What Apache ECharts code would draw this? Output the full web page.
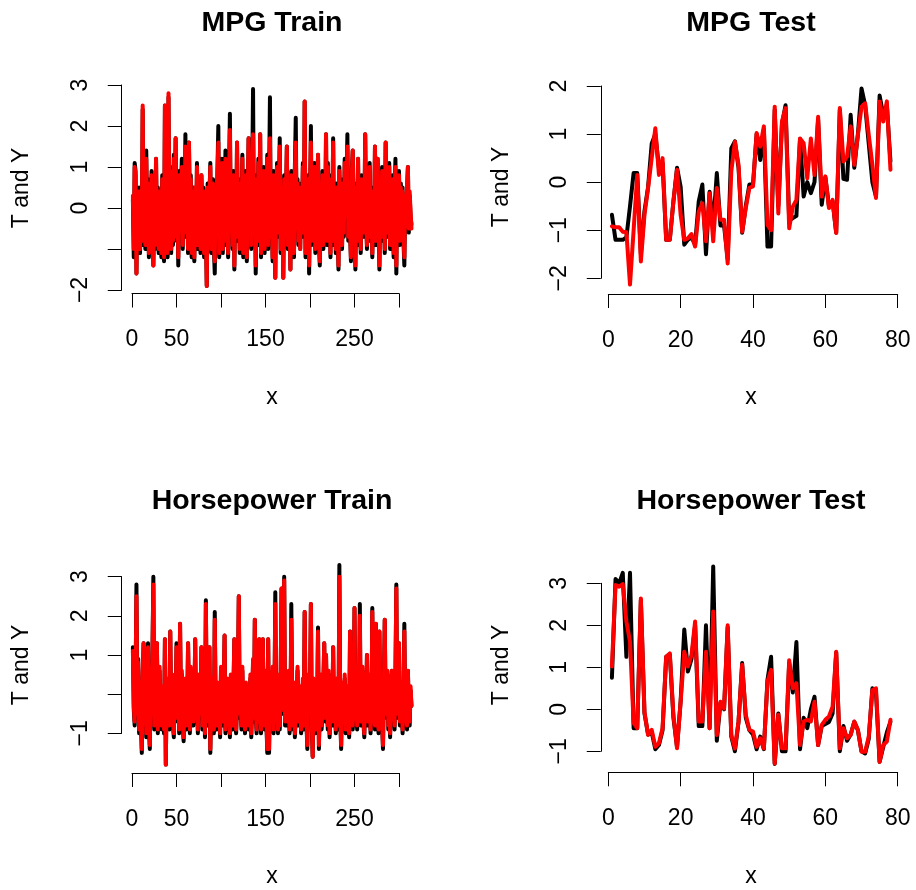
<!DOCTYPE html>
<html>
<head>
<meta charset="utf-8">
<script src="https://cdn.jsdelivr.net/npm/echarts@6/dist/echarts.min.js"></script>
<style>
html, body { margin: 0; padding: 0; background: #fff; }
#chart { width: 916px; height: 890px; }
</style>
</head>
<body>
<div id="chart"></div>
<script>
// T (black) and Y (red), standardized, index 1..n
var mpgTrainT = [
  0.2,-1.2,1.1,0.9,-1.6,0.3,-0.8,0.5,-1.1,0.0, -0.6,2.4,-0.9,0.4,-1.0,1.4,-0.3,0.7,-1.2,0.1,
  -0.5,0.9,-0.8,-1.4,0.2,-1.0,1.2,-0.7,0.5,-1.1, 0.3,-0.4,-1.2,0.8,-0.2,-1.3,2.5,-0.6,0.6,-1.2,
  2.7,-0.3,1.0,-1.1,0.4,-0.9,1.3,-0.5,1.7,-0.8, 0.2,-1.4,0.9,-0.6,0.4,1.2,-1.0,0.3,-0.7,1.8,
  -0.4,0.6,-1.1,1.6,-0.2,0.8,-1.2,0.1,0.5,-1.3, 0.4,-0.7,1.1,-1.0,0.2,-0.5,-1.1,0.8,-0.3,0.5,
  -1.2,0.3,-0.6,-1.9,0.6,-0.9,0.2,1.1,-1.1,-0.2, 0.7,-1.0,-1.6,0.4,-0.5,0.9,2.0,-1.2,0.3,-0.7,
  1.2,-1.1,0.5,-0.3,1.4,-0.9,0.1,-1.2,0.8,2.3, -0.6,0.4,-1.0,0.9,-1.5,0.2,-0.8,1.6,-0.4,0.7,
  -1.1,0.3,-0.6,1.3,-1.2,0.5,-0.2,0.9,-1.3,0.1, 1.7,-0.7,0.4,-1.0,0.6,2.9,-0.5,0.8,-1.6,0.2,
  -0.9,1.2,-0.3,1.8,-1.2,0.5,-0.6,1.0,-1.1,0.3, -0.4,1.3,-1.0,0.6,2.7,-0.8,0.2,-1.3,0.9,-0.5,
  -1.7,0.4,1.1,-0.7,0.3,1.7,-1.1,0.6,-0.2,-1.7, 0.8,-0.6,0.2,1.5,-1.0,0.5,-0.3,-1.5,0.9,-0.8,
  0.4,-1.2,1.0,2.2,-0.5,0.7,-0.9,0.3,-1.0,0.6, -0.4,1.1,-0.7,2.6,-1.2,0.4,-0.3,0.8,-1.6,0.2,
  2.0,-0.9,0.5,-0.4,1.1,-1.1,0.7,-0.2,1.3,-0.8, -1.4,0.6,-0.5,0.9,-1.0,0.3,-0.6,1.8,-0.9,1.1,
  -0.3,0.5,-1.2,0.8,-0.4,1.7,-0.9,0.2,-1.1,0.6, -0.5,-1.5,1.0,-0.2,0.7,-1.0,0.4,-0.7,1.2,-0.3,
  0.5,1.8,-0.8,0.3,-0.6,-1.3,0.9,1.4,-0.4,0.2, -1.5,0.6,-0.3,1.2,-0.9,0.4,-1.1,0.8,-0.5,0.3,
  -0.7,1.8,-0.2,-1.0,0.6,-0.8,1.1,-0.4,0.5,-1.2, 0.3,-0.6,1.5,-0.9,0.7,1.2,-0.3,-1.5,0.4,-0.8,
  1.0,-0.5,0.2,-1.1,1.6,-0.7,0.5,-0.2,1.1,-1.0, 0.4,-0.6,0.8,-1.2,0.3,1.2,-1.6,0.6,-0.4,0.9,
  -0.9,0.6,-0.3,0.5,-0.8,-1.4,0.2,-0.5,0.4,1.0, -0.6,0.3,-0.2,-0.4
];
var mpgTrainY = [
  0.3,-1.0,1.0,0.8,-1.6,0.4,-0.7,0.4,-1.0,0.1, -0.5,2.5,-0.8,0.3,-0.9,1.2,-0.2,0.6,-1.1,0.2,
  -0.4,0.8,-0.7,-1.4,0.3,-0.9,1.2,-0.6,0.4,-1.0, 0.4,-0.3,-1.1,0.7,-0.1,-1.2,2.5,-0.5,0.5,-1.1,
  2.8,-0.2,0.9,-1.0,0.5,-0.8,1.2,-0.4,1.7,-0.7, 0.3,-1.2,0.8,-0.5,0.5,1.0,-0.9,0.4,-0.6,1.5,
  -0.3,0.5,-1.0,1.6,-0.1,0.7,-1.1,0.2,0.4,-1.2, 0.5,-0.6,1.0,-0.9,0.3,-0.4,-1.0,0.8,-0.2,0.4,
  -1.1,0.4,-0.5,-1.9,0.5,-0.8,0.3,1.0,-1.0,-0.1, 0.6,-0.9,-1.3,0.5,-0.4,0.8,1.6,-1.1,0.4,-0.6,
  1.1,-1.0,0.6,-0.2,1.2,-0.8,0.2,-1.1,0.7,1.9, -0.5,0.5,-0.9,0.8,-1.4,0.3,-0.7,1.6,-0.3,0.6,
  -1.0,0.4,-0.5,1.2,-1.1,0.6,-0.1,0.8,-1.2,0.2, 1.7,-0.6,0.5,-0.9,0.5,1.8,-0.4,0.7,-1.4,0.3,
  -0.8,1.1,-0.2,1.8,-1.1,0.6,-0.5,0.9,-1.0,0.4, -0.3,1.2,-0.9,0.5,1.7,-0.7,0.3,-1.2,0.8,-0.4,
  -1.7,0.5,1.0,-0.6,0.4,1.5,-1.0,0.5,-0.1,-1.7, 0.7,-0.5,0.3,1.5,-0.9,0.6,-0.2,-1.5,0.8,-0.7,
  0.5,-1.1,0.9,1.6,-0.4,0.6,-0.8,0.4,-1.0,0.5, -0.3,1.0,-0.6,2.6,-1.1,0.5,-0.2,0.7,-1.4,0.3,
  1.6,-0.8,0.6,-0.3,1.0,-1.0,0.6,-0.1,1.3,-0.7, -1.3,0.5,-0.4,0.8,-0.9,0.4,-0.5,1.8,-0.8,1.0,
  -0.2,0.6,-1.1,0.7,-0.3,1.6,-0.8,0.3,-1.0,0.5, -0.4,-1.4,0.9,-0.1,0.6,-0.9,0.5,-0.6,1.1,-0.2,
  0.4,1.5,-0.7,0.4,-0.5,-1.2,0.8,1.4,-0.3,0.3, -1.4,0.5,-0.2,1.2,-0.8,0.5,-1.0,0.7,-0.4,0.4,
  -0.6,1.8,-0.1,-0.9,0.5,-0.7,1.0,-0.3,0.4,-1.1, 0.4,-0.5,1.5,-0.8,0.6,1.2,-0.2,-1.4,0.5,-0.7,
  0.9,-0.4,0.3,-1.0,1.6,-0.6,0.4,-0.1,1.0,-0.9, 0.5,-0.5,0.7,-1.1,0.4,1.0,-1.4,0.5,-0.3,0.8,
  -0.8,0.5,-0.2,0.4,-0.7,-1.2,0.3,-0.4,0.5,1.0, -0.5,0.4,-0.1,-0.5
];
var mpgTestT = [
  -0.68,-1.2,-1.2,-1.2,-1.15,-0.5,0.19,0.19,-1.5,-0.6, -0.1,0.8,1.0,0.3,0.4,-1.2,-1.2,-0.4,0.3,-0.1,
  -1.3,-1.2,-1.15,-1.3,-0.4,-0.05,-1.5,-0.2,-0.9,0.19, -0.9,-0.9,-1.6,0.7,0.85,0.3,-1.05,-0.5,-0.05,-0.05,
  1.0,0.46,1.1,-1.34,-1.34,1.5,-0.5,1.2,1.6,-0.8, -0.75,-0.7,0.9,-0.3,0.0,-0.23,0.0,1.3,-0.47,0.1,
  -0.5,-0.4,-1.05,1.5,0.07,0.05,1.4,0.3,1.0,1.95, 1.6,0.8,0.0,-0.3,1.8,1.4,1.6,0.43
];
var mpgTestY = [
  -0.92,-0.94,-0.94,-1.03,-1.04,-2.13,-1.0,0.15,-1.65,-0.68, -0.12,0.5,1.12,0.15,0.5,-1.2,-1.2,-0.4,0.26,-0.68,
  -1.2,-1.17,-1.08,-1.34,-0.61,-0.44,-1.23,-0.23,-1.23,-0.12, -0.78,-0.78,-1.69,0.22,0.84,0.36,-1.03,-0.54,-0.12,-0.09,
  1.02,0.74,1.16,-0.89,-1.0,1.57,-0.65,1.26,1.54,-0.96, -0.51,-0.37,0.91,0.81,0.08,0.91,0.15,1.36,-0.3,0.12,
  -0.54,-0.37,-1.06,1.54,0.43,0.53,1.16,0.36,0.98,1.57, 1.64,0.98,0.36,-0.33,1.68,1.26,1.68,0.26
];
var hpTrainT = [
  1.2,-0.4,-0.8,0.3,2.8,-0.6,0.9,-1.0,0.2,-0.7, -1.5,0.4,1.3,-0.5,0.6,-1.1,-0.3,1.3,-0.8,-1.4,
  0.5,-0.6,1.1,3.0,-0.9,0.2,-0.5,1.3,-1.0,-0.2, 0.6,-0.7,-0.9,0.1,-0.4,-1.0,1.4,-1.8,0.3,-0.6,
  -0.2,-0.9,1.6,-0.5,0.2,-0.8,-1.1,0.4,-0.6,1.3, -0.7,0.0,-1.0,1.8,-0.4,0.5,-0.8,-1.2,-0.3,0.3,
  -0.9,-0.5,1.3,-0.2,-1.0,0.6,-0.6,0.1,-0.8,-0.4, 1.4,-0.7,-0.1,-1.0,0.4,-0.6,-0.4,1.2,-0.9,-0.3,
  0.5,-1.1,2.4,-0.6,0.0,-0.8,1.2,-1.5,-0.2,0.3, -0.7,-1.0,2.1,-0.5,-0.9,0.2,-0.6,-0.3,-1.1,0.6,
  -0.4,-0.8,0.0,1.5,-1.0,-0.6,0.3,-0.9,-0.2,-1.1, 0.4,-0.5,-0.9,0.1,1.4,-0.7,-1.0,-0.3,0.5,2.5,
  -0.6,-0.2,-0.9,0.6,-0.7,-0.4,-1.0,0.2,-0.5,0.2, -0.9,-0.6,0.4,-1.1,-0.3,0.8,-0.7,1.9,-0.5,-1.0,
  0.3,-0.8,1.4,-0.4,-1.0,0.1,1.4,-0.6,-0.9,0.5, -0.7,-1.5,1.4,-1.5,0.2,-0.6,-0.3,0.6,-1.0,-0.4,
  2.6,-0.7,0.1,-1.0,0.4,-0.9,0.3,2.7,-0.5,0.4, 3.0,-0.8,0.2,-0.8,-0.3,0.5,-1.0,-0.6,2.3,-0.4,
  -0.9,0.2,-1.1,-0.5,-0.2,0.6,-0.8,-0.4,0.1,-1.0, -0.6,0.3,-0.9,2.1,-0.3,-0.7,-1.4,0.4,-0.5,0.0,
  2.3,-0.8,-1.6,0.3,-0.4,-1.0,0.1,-0.6,1.7,-1.4, -0.2,0.4,-0.9,-0.5,0.2,1.3,-0.7,1.0,-0.3,-0.9,
  0.5,-1.1,-0.4,0.1,-0.8,1.2,-0.6,-0.2,-1.0,0.3, -0.5,-0.9,3.3,-0.6,-1.4,0.2,-0.4,-0.8,0.4,-1.0,
  -0.3,0.1,-0.7,-1.1,1.6,-0.5,0.3,-0.9,-0.4,2.2, -0.6,0.0,-0.9,0.5,-0.4,2.3,-0.8,-0.2,0.6,-0.7,
  -1.1,0.2,-0.5,1.0,-0.8,-0.3,0.4,-1.0,-0.6,2.2, -0.4,0.3,-0.9,1.8,-0.6,-0.2,-1.0,1.6,-0.5,0.1,
  -0.8,-1.4,0.2,1.9,-0.6,-0.3,0.5,-0.9,-0.4,-1.1, 0.0,0.6,-0.7,-0.3,-0.9,0.4,2.8,-0.6,-0.2,1.3,
  -0.8,-0.4,0.2,-1.0,-0.5,1.8,-0.7,-0.3,-0.9,0.6, -0.5,-0.8,0.1,-0.3
];
var hpTrainY = [
  1.1,-0.3,-0.7,0.4,2.5,-0.5,0.8,-0.9,0.3,-0.6, -1.4,0.5,1.3,-0.4,0.7,-1.0,-0.2,1.2,-0.7,-1.3,
  0.6,-0.5,1.0,2.8,-0.8,0.3,-0.4,1.3,-0.9,-0.1, 0.7,-0.6,-0.8,0.2,-0.3,-0.9,1.4,-1.8,0.4,-0.5,
  -0.1,-0.8,1.6,-0.4,0.3,-0.7,-1.0,0.5,-0.5,1.2, -0.6,0.1,-0.9,1.8,-0.3,0.6,-0.7,-1.1,-0.2,0.4,
  -0.8,-0.4,1.3,-0.1,-0.9,0.7,-0.5,0.2,-0.7,-0.3, 1.4,-0.6,0.0,-0.9,0.5,-0.5,-0.3,1.2,-0.8,-0.2,
  0.6,-1.0,2.3,-0.5,0.1,-0.7,1.2,-1.4,-0.1,0.4, -0.6,-0.9,1.9,-0.4,-0.8,0.3,-0.5,-0.2,-1.0,0.7,
  -0.3,-0.7,0.1,1.5,-0.9,-0.5,0.4,-0.8,-0.1,-1.0, 0.5,-0.4,-0.8,0.2,1.4,-0.6,-0.9,-0.2,0.6,2.5,
  -0.5,-0.1,-0.8,0.7,-0.6,-0.3,-0.9,0.3,-0.4,0.2, -0.8,-0.5,0.5,-1.0,-0.2,0.9,-0.6,1.9,-0.4,-0.9,
  0.4,-0.7,1.4,-0.3,-0.9,0.2,1.4,-0.5,-0.8,0.6, -0.6,-1.4,1.4,-1.4,0.3,-0.5,-0.2,0.7,-0.9,-0.3,
  2.3,-0.6,0.2,-0.9,0.5,-0.8,0.4,2.7,-0.4,0.5, 2.9,-0.7,0.3,-0.7,-0.2,0.6,-0.9,-0.5,1.9,-0.3,
  -0.8,0.3,-1.0,-0.4,-0.1,0.7,-0.7,-0.3,0.2,-0.9, -0.5,0.4,-0.8,2.1,-0.2,-0.6,-1.3,0.5,-0.4,0.1,
  2.3,-0.7,-1.6,0.4,-0.3,-0.9,0.2,-0.5,1.6,-1.3, -0.1,0.5,-0.8,-0.4,0.3,1.3,-0.6,1.0,-0.2,-0.8,
  0.6,-1.0,-0.3,0.2,-0.7,1.2,-0.5,-0.1,-0.9,0.4, -0.4,-0.8,3.0,-0.5,-1.3,0.3,-0.3,-0.7,0.5,-0.9,
  -0.2,0.2,-0.6,-1.0,1.6,-0.4,0.4,-0.8,-0.3,2.2, -0.5,0.1,-0.8,0.6,-0.3,2.0,-0.7,-0.1,0.7,-0.6,
  -1.0,0.3,-0.4,1.0,-0.7,-0.2,0.5,-0.9,-0.5,2.1, -0.3,0.4,-0.8,1.8,-0.5,-0.1,-0.9,1.6,-0.4,0.2,
  -0.7,-1.3,0.3,1.9,-0.5,-0.2,0.6,-0.8,-0.3,-1.0, 0.1,0.6,-0.6,-0.2,-0.8,0.5,2.7,-0.5,-0.1,1.3,
  -0.7,-0.3,0.3,-0.9,-0.4,1.6,-0.6,-0.2,-0.8,0.6, -0.4,-0.7,0.2,-0.3
];
var hpTestT = [
  0.75,3.1,3.0,3.25,1.25,3.25,-0.45,-0.45,2.6,-0.1, -0.6,-0.55,-0.95,-0.85,-0.5,1.25,1.3,-0.2,-0.9,0.2,
  1.9,0.9,1.2,2.0,-0.4,-0.4,2.0,-0.45,3.4,-0.75, 0.15,0.0,1.95,-0.65,-1.0,-0.3,1.1,-0.2,-0.5,-0.6,
  -0.95,-0.65,-0.95,0.7,1.25,-1.3,-0.1,-1.0,-1.0,1.1, 0.4,1.6,-0.95,-0.2,-0.45,0.0,0.3,-0.85,-0.4,-0.35,
  -0.3,-0.1,1.35,-1.0,-0.4,-0.75,-0.6,-0.3,-0.5,-1.0, -1.05,-0.7,0.5,0.4,-1.25,-0.9,-0.55,-0.3
];
var hpTestY = [
  1.02,2.96,2.92,2.98,2.09,1.61,-0.33,-0.45,2.64,-0.06, -0.61,-0.49,-0.89,-0.81,-0.45,1.25,1.33,-0.13,-0.93,0.18,
  1.37,1.02,1.29,2.09,-0.29,-0.29,1.37,-0.45,2.33,-0.61, 0.18,0.02,2.0,-0.61,-0.93,-0.29,1.06,-0.13,-0.49,-0.53,
  -0.89,-0.69,-0.93,0.66,0.94,-1.29,-0.13,-0.93,-0.93,1.17, 0.5,0.62,-0.85,-0.29,-0.25,-0.29,0.18,-0.85,-0.37,-0.25,
  -0.17,0.06,1.37,-0.93,-0.45,-0.69,-0.61,-0.29,-0.49,-1.01, -1.01,-0.65,0.46,0.5,-1.25,-0.85,-0.77,-0.25
];

var panelTitles = ['MPG Train', 'MPG Test', 'Horsepower Train', 'Horsepower Test'];
// tick labels R kept (the rest were dropped for overlap)
var trainXLabels = [0, 50, 150, 250];
var mpgTrainYLabels = [-2, 0, 1, 2, 3];
var hpTrainYLabels = [-1, 1, 2, 3];

var FONT = 'Liberation Sans, Arial, Helvetica, sans-serif';

function pairs(arr) {
    return arr.map(function(v, i) { return [i + 1, v]; });
}
function minus(v) {
    return String(v).replace('-', '\u2212');
}
// R pads the x range by 4% on each side
function padRange(n) {
    var d = (n - 1) * 0.04;
    return [1 - d, n + d];
}

var chart = echarts.init(document.getElementById('chart'));

// pixel spans of the ticks, per panel
var panels = [
    {x0: 132, xw: 267, xmax: 300, xint: 50, xline: 293.5, y0: 85, yh: 205, ymin: -2, ymax: 3, n: mpgTrainT.length, xkeep: trainXLabels, ykeep: mpgTrainYLabels},
    {x0: 608.3, xw: 289.4, xmax: 80, xint: 20, xline: 294, y0: 86, yh: 192.3, ymin: -2, ymax: 2, n: mpgTestT.length},
    {x0: 132, xw: 267, xmax: 300, xint: 50, xline: 773, y0: 576.7, yh: 156.6, ymin: -1, ymax: 3, n: hpTrainT.length, xkeep: trainXLabels, ykeep: hpTrainYLabels},
    {x0: 608.3, xw: 289.4, xmax: 80, xint: 20, xline: 772.3, y0: 583.3, yh: 168, ymin: -1, ymax: 3, n: hpTestT.length}
];

var lineStyleAxis = {color: '#000', width: 1};
function labelFn(keep) {
    return function(v) {
        if (keep && keep.indexOf(v) < 0) return '';
        return minus(v);
    };
}

var grids = [], xAxes = [], yAxes = [];
panels.forEach(function(p, k) {
    var r = padRange(p.n);
    var scale = p.xw / p.xmax;
    // data grid: the whole plot region in x, tick span in y
    grids.push({left: p.x0 + r[0] * scale, top: p.y0, width: (r[1] - r[0]) * scale, height: p.yh});
    xAxes.push({gridIndex: k, type: 'value', min: r[0], max: r[1], show: false});
    yAxes.push({
        gridIndex: k, type: 'value', min: p.ymin, max: p.ymax, interval: 1, position: 'left',
        axisLine: {show: true, onZero: false, lineStyle: lineStyleAxis},
        axisTick: {show: true, length: 14, lineStyle: lineStyleAxis},
        splitLine: {show: false},
        axisLabel: {color: '#000', fontSize: 23, fontFamily: FONT, margin: 30, rotate: 90,
            showMinLabel: true, showMaxLabel: true, formatter: labelFn(p.ykeep)}
    });
});
panels.forEach(function(p, k) {
    // axis grid: only the tick span, carries the visible x axis
    var g = 4 + k;
    grids.push({left: p.x0, top: p.y0, width: p.xw, height: p.yh});
    xAxes.push({
        gridIndex: g, type: 'value', min: 0, max: p.xmax, interval: p.xint, position: 'bottom',
        offset: p.xline - (p.y0 + p.yh),
        axisLine: {show: true, onZero: false, lineStyle: lineStyleAxis},
        axisTick: {show: true, length: 14, lineStyle: lineStyleAxis},
        splitLine: {show: false},
        axisLabel: {color: '#000', fontSize: 23, fontFamily: FONT, margin: 35,
            showMinLabel: true, showMaxLabel: true, formatter: labelFn(p.xkeep)}
    });
    yAxes.push({gridIndex: g, type: 'value', min: p.ymin, max: p.ymax, show: false});
});

var seriesData = [
    [mpgTrainT, mpgTrainY],
    [mpgTestT, mpgTestY],
    [hpTrainT, hpTrainY],
    [hpTestT, hpTestY]
];
var series = [];
seriesData.forEach(function(p, k) {
    [['T', p[0], '#000000'], ['Y', p[1], '#ff0000']].forEach(function(s) {
        series.push({
            name: s[0], type: 'line', xAxisIndex: k, yAxisIndex: k,
            data: pairs(s[1]), symbol: 'none', clip: false, silent: true,
            lineStyle: {color: s[2], width: 4, cap: 'round', join: 'round'}
        });
    });
});

var centersX = [272, 751, 272, 751];
var titleY = [22, 22, 500, 500];
var xlabY = [398, 398, 877, 877];
var ylabX = [22, 502, 22, 502];
var ylabY = [188, 187, 665, 665];

var graphics = [];
for (var k = 0; k < 4; k++) {
    graphics.push({
        type: 'text', x: centersX[k], y: xlabY[k],
        style: {text: 'x', fontSize: 23, fontFamily: FONT, fill: '#000', align: 'center', verticalAlign: 'middle'}
    });
    graphics.push({
        type: 'text', x: ylabX[k], y: ylabY[k], rotation: Math.PI / 2,
        style: {text: 'T and Y', fontSize: 23, fontFamily: FONT, fill: '#000', align: 'center', verticalAlign: 'middle'}
    });
}

chart.setOption({
    animation: false,
    backgroundColor: '#fff',
    title: panelTitles.map(function(t, k) {
        return {
            text: t, left: centersX[k], top: titleY[k] - 13, textAlign: 'center', padding: 0,
            textStyle: {fontSize: 28.5, fontWeight: 'bold', color: '#000', fontFamily: FONT}
        };
    }),
    grid: grids,
    xAxis: xAxes,
    yAxis: yAxes,
    series: series,
    graphic: graphics
});
</script>
</body>
</html>
